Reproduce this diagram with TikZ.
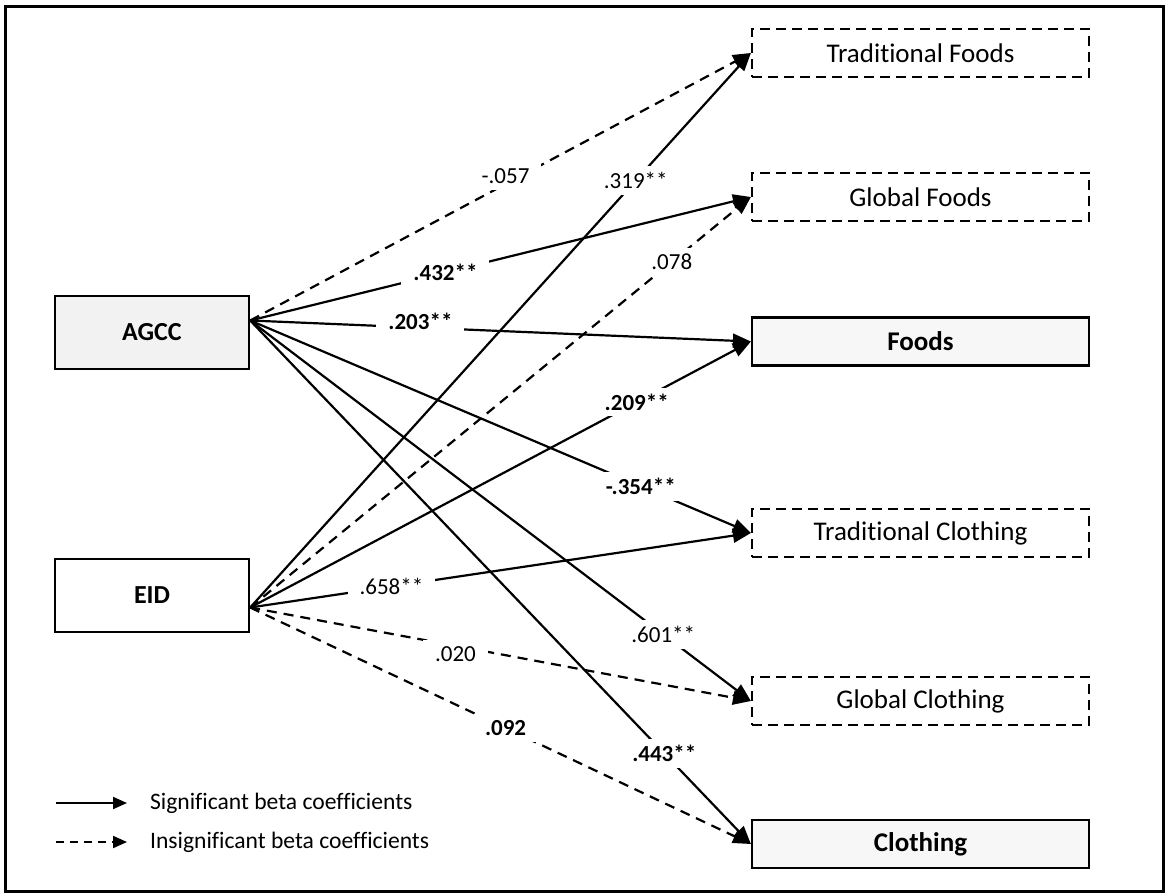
\documentclass[tikz,border=0pt]{standalone}
\usepackage{fontspec}
\setmainfont{Carlito}[Ligatures=CommonOff]
\usetikzlibrary{arrows.meta}
\tikzset{
    % Antecedent constructs - left boxes
    construct/.style={rectangle, draw, line width=1.2pt, minimum width=97pt, minimum height=36.5pt, font=\fontsize{13}{15}\selectfont\bfseries},
    % Outcome variables - right boxes
    outcome/.style={rectangle, draw, line width=1.1pt, minimum width=168.5pt, minimum height=24pt, font=\fontsize{13.5}{16}\selectfont},
    dashbox/.style={dash pattern=on 5pt off 3pt},
    % Significant paths - solid arrows
    sig/.style={line width=1.1pt, -{Triangle[length=9pt, width=7pt]}},
    % Insignificant paths - dashed arrows
    insig/.style={sig, dash pattern=on 5pt off 3.5pt},
    % Beta coefficient labels
    coef/.style={fill=white, inner xsep=6pt, inner ysep=3pt, font=\fontsize{11.5}{13}\selectfont},
    bcoef/.style={coef, font=\fontsize{11.5}{13}\selectfont\bfseries},
    legend text/.style={anchor=west, font=\fontsize{11.8}{14}\selectfont}
}

\begin{document}
\begin{tikzpicture}[x=0.5pt, y=-0.5pt]
    \useasboundingbox (0,0) rectangle (1165,893);
    \draw[line width=1.5pt] (5,7) rectangle (1163,891);

    % --- Constructs ---
    \node[construct, fill=black!5] (agcc) at (152,332.5) {AGCC};
    \node[construct] (eid) at (152,595.5) {EID};
    \coordinate (agccout) at ([yshift=6pt]agcc.east);
    \coordinate (eidout) at ([yshift=-6pt]eid.east);

    % --- Outcomes ---
    \node[outcome, dashbox] (tfoods) at (920.5,53) {Traditional Foods};
    \node[outcome, dashbox] (gfoods) at (920.5,197) {Global Foods};
    \node[outcome, fill=black!3, font=\fontsize{13.5}{16}\selectfont\bfseries] (foods) at (920.5,341.5) {Foods};
    \node[outcome, dashbox] (tcloth) at (920.5,533) {Traditional Clothing};
    \node[outcome, dashbox] (gcloth) at (920.5,701) {Global Clothing};
    \node[outcome, fill=black!3, font=\fontsize{13.5}{16}\selectfont\bfseries] (cloth) at (920.5,844) {Clothing};

    % --- Paths from AGCC ---
    \draw[insig] (agccout) -- node[coef, pos=0.51, yshift=4pt] {-.057} (tfoods.west);
    \draw[sig] (agccout) -- node[bcoef, pos=0.39] {.432**} (gfoods.west);
    \draw[sig] (agccout) -- node[bcoef, pos=0.34, yshift=3pt] {.203**} (foods.west);
    \draw[sig] (agccout) -- node[bcoef, pos=0.78] {-.354**} (tcloth.west);
    \draw[sig] (agccout) -- node[coef, pos=0.825] {.601**} (gcloth.west);
    \draw[sig] (agccout) -- node[bcoef, pos=0.827] {.443**} (cloth.west);

    % --- Paths from EID ---
    \draw[sig] (eidout) -- node[coef, pos=0.77] {.319**} (tfoods.west);
    \draw[insig] (eidout) -- node[coef, pos=0.842] {.078} (gfoods.west);
    \draw[sig] (eidout) -- node[bcoef, pos=0.772] {.209**} (foods.west);
    \draw[sig] (eidout) -- node[coef, pos=0.282] {.658**} (tcloth.west);
    \draw[insig] (eidout) -- node[coef, pos=0.41, yshift=-4pt] {.020} (gcloth.west);
    \draw[insig] (eidout) -- node[bcoef, pos=0.51] {.092} (cloth.west);

    % --- Legend ---
    \coordinate (sigstart) at (56,803);
    \coordinate (sigend) at (127,803);
    \coordinate (insigstart) at (56,842);
    \coordinate (insigend) at (127,842);
    \draw[line width=1pt, -{Triangle[length=7pt, width=6pt]}] (sigstart) -- (sigend);
    \draw[line width=1pt, dash pattern=on 4pt off 3pt, -{Triangle[length=7pt, width=6pt]}] (insigstart) -- (insigend);
    \node[legend text] (sigtext) at (143,803) {Significant beta coefficients};
    \node[legend text] (insigtext) at (143,842) {Insignificant beta coefficients};
\end{tikzpicture}
\end{document}
